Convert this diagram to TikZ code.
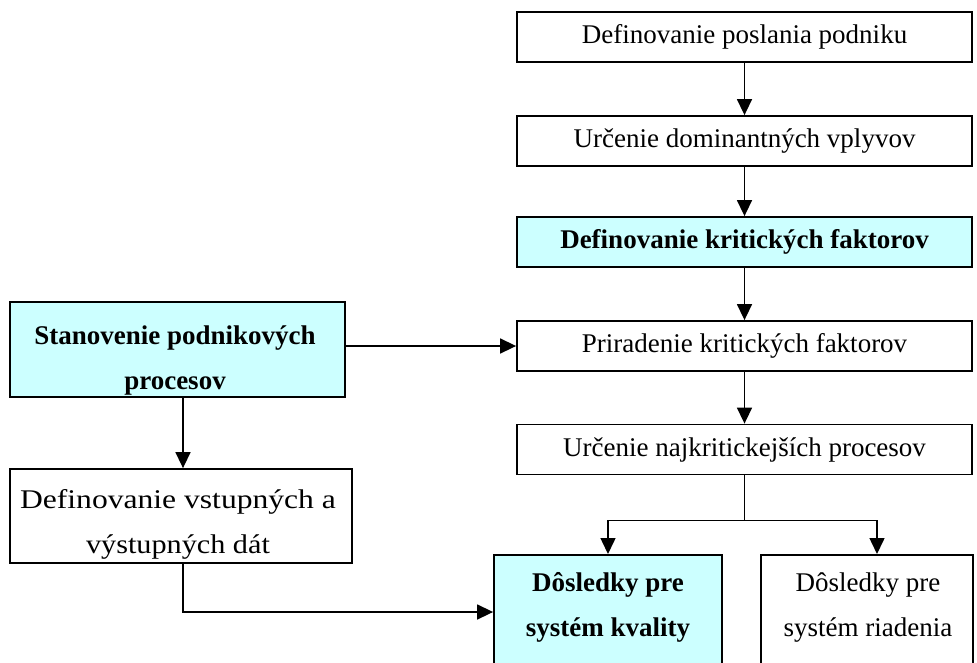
\documentclass[tikz,border=0pt]{standalone}
\usepackage{fontspec}
\setmainfont{Liberation Serif}
\usetikzlibrary{arrows.meta}
\definecolor{boxcyan}{HTML}{CCFFFF}
\begin{document}
\begin{tikzpicture}[x=1pt,y=-1pt,
  txt/.style={font=\fontsize{27}{45}\selectfont, align=center},
  btxt/.style={txt, font=\fontsize{27}{45}\selectfont\bfseries},
  plainbox/.style={draw=black, line width=1.8pt, fill=white, inner sep=0pt, txt},
  cyanbox/.style={plainbox, fill=boxcyan, font=\fontsize{27}{45}\selectfont\bfseries},
  rbox/.style={minimum width=455pt, minimum height=50pt},
  conn/.style={line width=1.5pt, draw=black},
  arr/.style={conn, -{Triangle[length=16pt,width=15pt]}}]
\clip (0,0) rectangle (977,662);
\fill[white] (0,0) rectangle (977,662);
% right column
\node[plainbox, rbox] (b1) at (744.5,37) {Definovanie poslania podniku};
\node[plainbox, rbox] (b2) at (744.5,141) {Určenie dominantných vplyvov};
\node[cyanbox, rbox] (b3) at (744.5,242) {Definovanie kritických faktorov};
\node[plainbox, rbox] (b4) at (744.5,346) {Priradenie kritických faktorov};
\node[plainbox, rbox] (b5) at (744.5,449.5) {Určenie najkritickejších procesov};
% left column
\node[cyanbox, minimum width=335pt, minimum height=95pt] (l1) at (177.5,349.5) {};
\node[btxt] (l1text) at (175,360) {Stanovenie podnikových\\procesov};
\node[plainbox, minimum width=342pt, minimum height=94pt] (l2) at (181,516) {};
\node[txt] (l2text) at (178,524) {\scalebox{1.17}[1]{Definovanie vstupných a}\\\scalebox{1.12}[1]{výstupných dát}};
% bottom boxes (cut by the lower edge)
\node[cyanbox, minimum width=228pt, minimum height=140pt, anchor=north] (k) at (608,554) {};
\node[btxt] (ktext) at (608,607) {Dôsledky pre\\systém kvality};
\node[plainbox, minimum width=212pt, minimum height=140pt, anchor=north] (r) at (867,554) {};
\node[txt] (rtext) at (868,608) {Dôsledky pre\\systém riadenia};
% helper coordinates
\coordinate (cx) at (183,0);
\coordinate (ky) at (0,612);
\coordinate (rx) at (877,0);
% connectors
\draw[arr] (b1) -- (b2);
\draw[arr] (b2) -- (b3);
\draw[arr] (b3) -- (b4);
\draw[arr] (b4) -- (b5);
\draw[arr] (l1.east |- b4.west) -- (b4.west);
\draw[arr] (l1.south -| cx) -- (l2.north -| cx);
\draw[arr] (l2.south -| cx) |- (k.west |- ky);
\draw[conn] (b5.south) -- ++(0,45) coordinate (br);
\draw[arr] (br) -| (k.north);
\draw[arr] (br) -| (r.north -| rx);
\end{tikzpicture}
\end{document}
